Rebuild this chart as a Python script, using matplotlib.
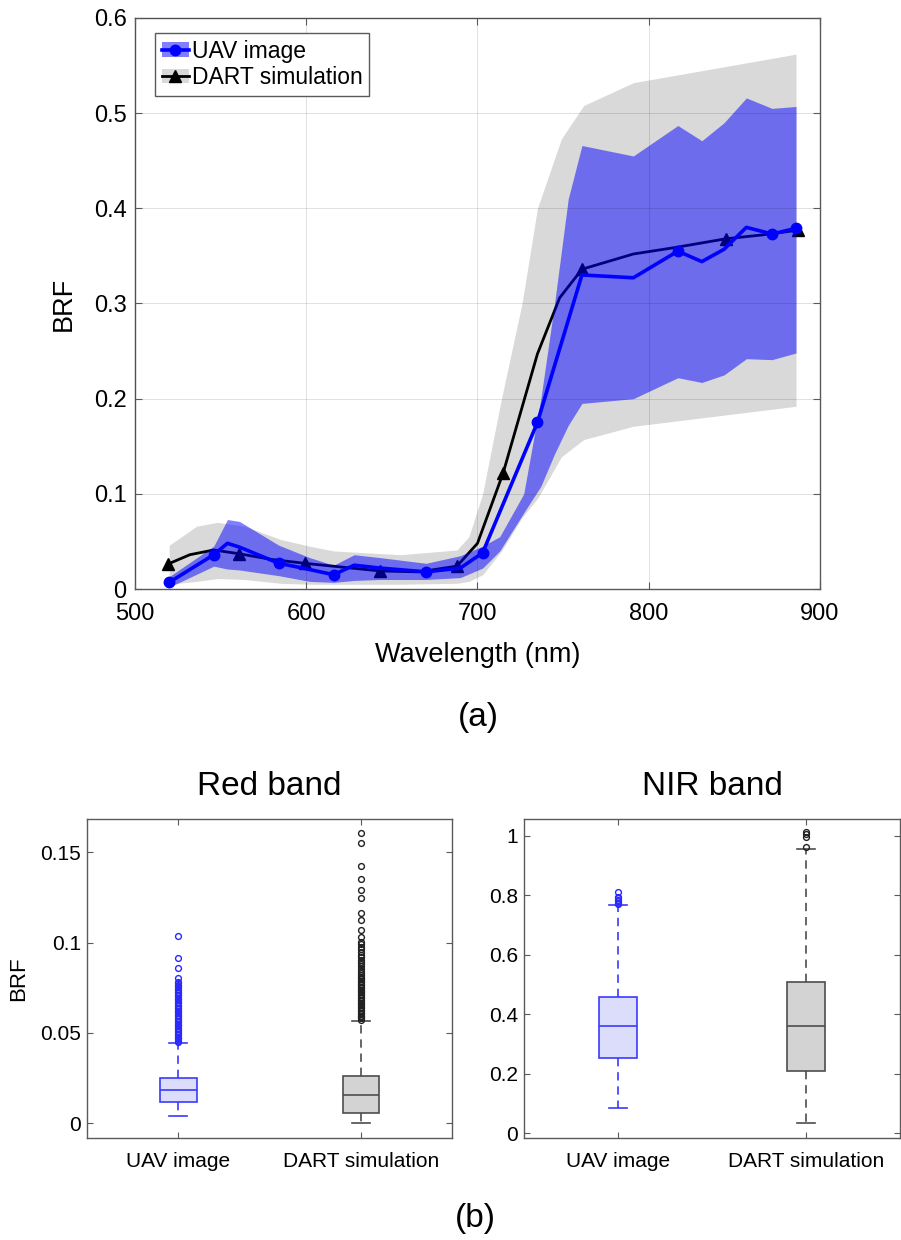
import matplotlib
matplotlib.use("Agg")
import matplotlib.pyplot as plt
from matplotlib.lines import Line2D
from matplotlib.patches import Patch
from matplotlib.ticker import FuncFormatter

plt.rcParams["font.family"] = ["Liberation Sans", "DejaVu Sans"]

# ---- (a) spectra -------------------------------------------------------
uav_wl = [520, 546, 554, 561, 584, 598, 616, 628, 643, 670, 690, 703,
          735, 761, 791, 817, 831, 844, 857, 872, 886]
uav_brf = [0.007, 0.036, 0.048, 0.044, 0.027, 0.022, 0.015, 0.025, 0.022,
           0.018, 0.022, 0.038, 0.175, 0.330, 0.327, 0.355, 0.344, 0.357,
           0.380, 0.373, 0.379]
uav_marker_idx = [0, 1, 4, 6, 9, 11, 12, 15, 19, 20]

dart_wl = [519, 532, 546, 561, 580, 599, 621, 643, 666, 688, 700, 715,
           735, 748, 761, 791, 816, 845, 866, 887]
dart_brf = [0.026, 0.036, 0.041, 0.037, 0.031, 0.027, 0.023, 0.019, 0.018,
            0.024, 0.048, 0.122, 0.247, 0.306, 0.336, 0.352, 0.359, 0.368,
            0.372, 0.377]
dart_marker_idx = [0, 3, 5, 7, 9, 11, 14, 17, 19]

uav_band_wl = [520, 546, 554, 561, 584, 602, 616, 628, 643, 670, 690, 703,
               713, 727, 737, 745, 753, 761, 791, 817, 831, 844, 857, 872, 886]
uav_band_lo = [0.002, 0.024, 0.021, 0.020, 0.014, 0.008, 0.007, 0.009, 0.010,
               0.010, 0.012, 0.022, 0.040, 0.080, 0.108, 0.142, 0.172, 0.195,
               0.200, 0.222, 0.217, 0.225, 0.242, 0.241, 0.248]
uav_band_hi = [0.013, 0.045, 0.073, 0.071, 0.046, 0.033, 0.025, 0.036, 0.033,
               0.027, 0.035, 0.045, 0.055, 0.100, 0.200, 0.300, 0.410, 0.466,
               0.455, 0.487, 0.471, 0.490, 0.516, 0.505, 0.507]

dart_band_wl = [520, 536, 548, 564, 585, 602, 616, 655, 688, 695, 703, 714,
                726, 735, 749, 762, 791, 886]
dart_band_lo = [0.005, 0.008, 0.011, 0.010, 0.006, 0.005, 0.005, 0.005, 0.006,
                0.008, 0.015, 0.040, 0.075, 0.095, 0.139, 0.157, 0.171, 0.192]
dart_band_hi = [0.046, 0.066, 0.070, 0.066, 0.052, 0.045, 0.040, 0.036, 0.041,
                0.055, 0.100, 0.200, 0.300, 0.400, 0.473, 0.508, 0.532, 0.562]

# ---- (b) box plot statistics (UAV image, DART simulation) ---------------
box_labels = ["UAV image", "DART simulation"]

red_q1 = [0.0116, 0.0055]
red_med = [0.0184, 0.0158]
red_q3 = [0.0249, 0.0262]
red_whislo = [0.0040, 0.0]
red_whishi = [0.0443, 0.0568]
red_uav_fliers = [0.0448, 0.0456, 0.0464, 0.0472, 0.0480, 0.0488, 0.0496,
                  0.0504, 0.0512, 0.0520, 0.0528, 0.0536, 0.0544, 0.0552,
                  0.0560, 0.0568, 0.0576, 0.0584, 0.0592, 0.0600, 0.0608,
                  0.0616, 0.0624, 0.0632, 0.0640, 0.0648, 0.0656, 0.0664,
                  0.0672, 0.0680, 0.0688, 0.0696, 0.0704, 0.0712, 0.0720,
                  0.0728, 0.0736, 0.0744, 0.0752, 0.0760, 0.0768, 0.0776,
                  0.0784, 0.0806, 0.0861, 0.0917, 0.1038]
red_dart_fliers = [0.0572, 0.0580, 0.0588, 0.0596, 0.0604, 0.0612, 0.0620,
                   0.0628, 0.0636, 0.0644, 0.0652, 0.0660, 0.0668, 0.0676,
                   0.0684, 0.0692, 0.0700, 0.0708, 0.0716, 0.0724, 0.0732,
                   0.0740, 0.0748, 0.0756, 0.0764, 0.0772, 0.0780, 0.0788,
                   0.0796, 0.0804, 0.0812, 0.0820, 0.0830, 0.0842, 0.0855,
                   0.0868, 0.0880, 0.0893, 0.0906, 0.0920, 0.0934, 0.0948,
                   0.0962, 0.0976, 0.0990, 0.1005, 0.1033, 0.1070, 0.1125,
                   0.1162, 0.1245, 0.1291, 0.1352, 0.1424, 0.1553, 0.1605]

nir_q1 = [0.252, 0.2095]
nir_med = [0.361, 0.362]
nir_q3 = [0.457, 0.510]
nir_whislo = [0.084, 0.0336]
nir_whishi = [0.768, 0.955]
nir_uav_fliers = [0.772, 0.776, 0.780, 0.785, 0.790, 0.796, 0.811]
nir_dart_fliers = [0.964, 0.998, 1.006, 1.012]

SPINE = "#5a5a5a"


def pct_fmt(v, _):
    return f"{v:g}"


fig = plt.figure(figsize=(9.01, 12.4), dpi=100)

# ---- top panel ----------------------------------------------------------
ax = fig.add_axes([0.1498, 0.525, 0.7603, 0.4605])
ax.fill_between(dart_band_wl, dart_band_lo, dart_band_hi,
                color="#d9d9d9", linewidth=0, zorder=1)
ax.plot(dart_wl, dart_brf, color="black", lw=2.0, marker="^", ms=8,
        markevery=dart_marker_idx, zorder=1.5)
ax.fill_between(uav_band_wl, uav_band_lo, uav_band_hi,
                color=(0, 0, 1, 0.5), linewidth=0, zorder=2)
ax.plot(uav_wl, uav_brf, color="#0000ff", lw=2.6, marker="o", ms=7.5,
        markevery=uav_marker_idx, zorder=3)

ax.set_xlim(500, 900)
ax.set_ylim(0, 0.6)
ax.set_xticks([500, 600, 700, 800, 900])
ax.set_yticks([0, 0.1, 0.2, 0.3, 0.4, 0.5, 0.6])
ax.yaxis.set_major_formatter(FuncFormatter(pct_fmt))
ax.set_axisbelow(False)
ax.grid(True, color="black", alpha=0.12, lw=0.7)
ax.tick_params(direction="in", top=True, right=True, length=5, width=0.8,
               color=SPINE, labelsize=17)
ax.tick_params(axis="x", pad=10)
ax.tick_params(axis="y", pad=6)
for s in ax.spines.values():
    s.set_color(SPINE)
    s.set_linewidth(1.0)
ax.set_xlabel("Wavelength (nm)", fontsize=19.5, labelpad=12)
ax.set_ylabel("BRF", fontsize=19.5, labelpad=12)

uav_handle = (Patch(facecolor=(0, 0, 1, 0.5), edgecolor="none"),
              Line2D([], [], color="#0000ff", lw=2.6, marker="o", ms=7.5))
dart_handle = (Patch(facecolor="#d9d9d9", edgecolor="none"),
               Line2D([], [], color="black", lw=2.0, marker="^", ms=8))
leg = ax.legend([uav_handle, dart_handle], ["UAV image", "DART simulation"],
                loc="upper left", bbox_to_anchor=(0.029, 0.974),
                borderaxespad=0, fontsize=16.5, fancybox=False, framealpha=1,
                edgecolor=SPINE, handlelength=1.2, handleheight=0.6,
                handletextpad=0.1, borderpad=0.3, labelspacing=0.15)
leg.get_frame().set_linewidth(1.0)

fig.text(478 / 901, 1 - 718 / 1240, "(a)", fontsize=24,
         ha="center", va="center")


# ---- bottom panels ------------------------------------------------------
def draw_box(axis, pos, q1, med, q3, lo, hi, fliers, face, edge, flier_col):
    stats = [{"q1": q1, "med": med, "q3": q3, "whislo": lo, "whishi": hi,
              "fliers": fliers}]
    axis.bxp(stats, positions=[pos], widths=0.2, patch_artist=True,
             showfliers=True, manage_ticks=False,
             boxprops=dict(facecolor=face, edgecolor=edge, lw=1.2),
             medianprops=dict(color=edge, lw=1.2),
             whiskerprops=dict(color=edge, lw=1.2, linestyle=(0, (5, 3.5))),
             capprops=dict(color=edge, lw=1.2),
             flierprops=dict(marker="o", markersize=4.2, markerfacecolor="none",
                             markeredgecolor=flier_col, markeredgewidth=1.0))


def style_box_axes(axis, ylim, yticks):
    axis.set_xlim(0.5, 2.5)
    axis.set_ylim(*ylim)
    axis.set_yticks(yticks)
    axis.yaxis.set_major_formatter(FuncFormatter(pct_fmt))
    axis.set_xticks([1, 2], box_labels)
    axis.tick_params(direction="in", top=True, right=True, length=4,
                     width=0.8, color=SPINE, labelsize=15)
    axis.tick_params(axis="x", pad=10)
    axis.tick_params(axis="y", pad=4.5)
    for s in axis.spines.values():
        s.set_color(SPINE)
        s.set_linewidth(1.0)


UAV_FACE, UAV_EDGE, UAV_FLIER = "#dcdcfb", "#3a3aff", "#2a2aff"
DART_FACE, DART_EDGE, DART_FLIER = "#d3d3d3", "#4d4d4d", "#222222"

ax_red = fig.add_axes([0.0966, 0.0825, 0.4051, 0.257])
draw_box(ax_red, 1, red_q1[0], red_med[0], red_q3[0], red_whislo[0],
         red_whishi[0], red_uav_fliers, UAV_FACE, UAV_EDGE, UAV_FLIER)
draw_box(ax_red, 2, red_q1[1], red_med[1], red_q3[1], red_whislo[1],
         red_whishi[1], red_dart_fliers, DART_FACE, DART_EDGE, DART_FLIER)
style_box_axes(ax_red, (-0.008, 0.1684), [0, 0.05, 0.1, 0.15])
ax_red.set_ylabel("BRF", fontsize=16, labelpad=8)
ax_red.set_title("Red band", fontsize=24, pad=17)

ax_nir = fig.add_axes([0.5816, 0.0825, 0.4173, 0.257])
draw_box(ax_nir, 1, nir_q1[0], nir_med[0], nir_q3[0], nir_whislo[0],
         nir_whishi[0], nir_uav_fliers, UAV_FACE, UAV_EDGE, UAV_FLIER)
draw_box(ax_nir, 2, nir_q1[1], nir_med[1], nir_q3[1], nir_whislo[1],
         nir_whishi[1], nir_dart_fliers, DART_FACE, DART_EDGE, DART_FLIER)
style_box_axes(ax_nir, (-0.015, 1.057), [0, 0.2, 0.4, 0.6, 0.8, 1])
ax_nir.set_title("NIR band", fontsize=24, pad=17)

fig.text(475 / 901, 1 - 1218 / 1240, "(b)", fontsize=24,
         ha="center", va="center")

fig.savefig("out.png", dpi=100)
